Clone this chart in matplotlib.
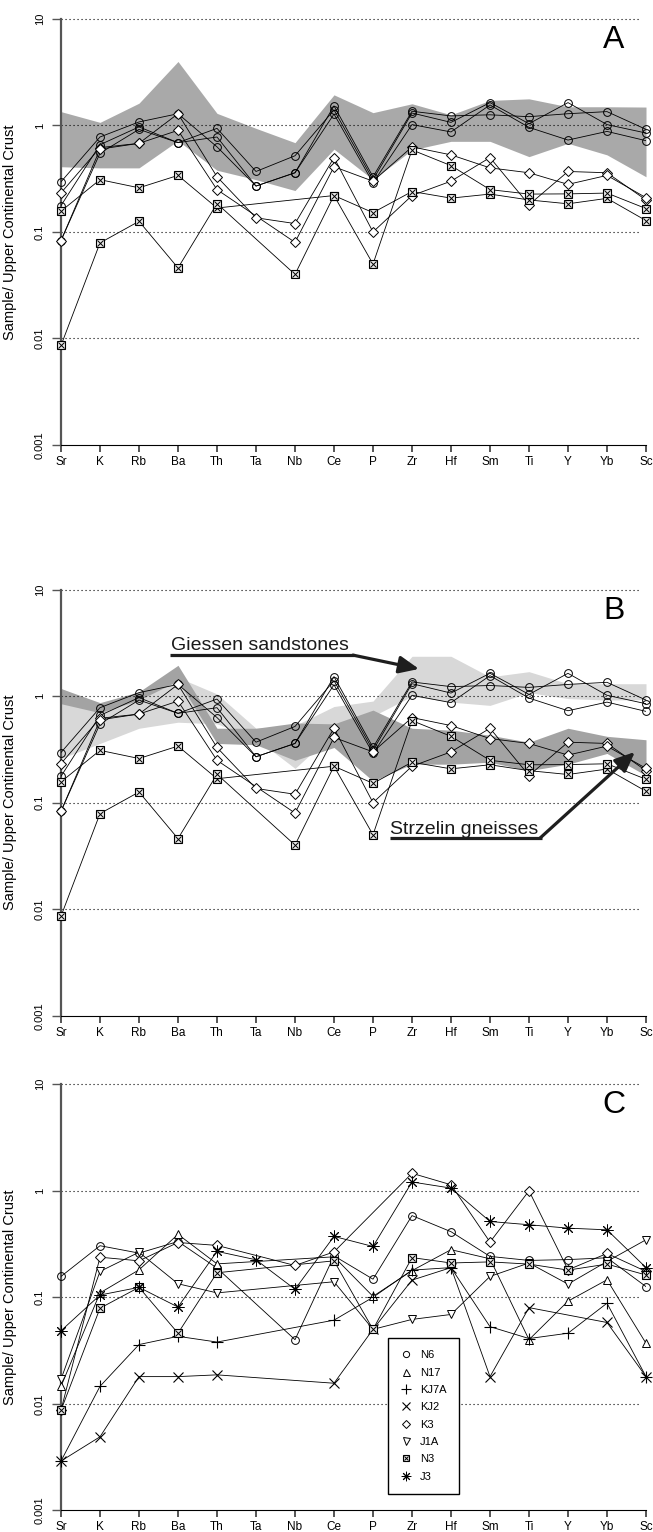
import numpy as np
import matplotlib
matplotlib.use("Agg")
import matplotlib.pyplot as plt
from matplotlib.lines import Line2D

plt.rcParams['font.family'] = ['Liberation Sans', 'DejaVu Sans']

nan = np.nan

# ----------------- data ----------------------------------#
elements = ['Sr', 'K', 'Rb', 'Ba', 'Th', 'Ta', 'Nb', 'Ce', 'P', 'Zr',
            'Hf', 'Sm', 'Ti', 'Y', 'Yb', 'Sc']
ytick_vals = [0.001, 0.01, 0.1, 1, 10]
ytick_labels = ['0.001', '0.01', '0.1', '1', '10']

# panels A and B: same samples
circ1 = [0.296, 0.78, 1.08, 1.29, 0.63, 0.27, 0.36, 1.53, 0.33, 1.36, 1.23, 1.26, 1.21, 1.29, 1.35, 0.92]
circ2 = [0.177, 0.66, 0.97, 0.69, 0.94, 0.37, 0.52, 1.40, 0.31, 1.31, 1.07, 1.64, 1.04, 1.64, 1.02, 0.85]
circ3 = [0.083, 0.55, 0.92, 0.69, 0.78, 0.27, 0.36, 1.28, 0.29, 1.02, 0.87, 1.56, 0.96, 0.73, 0.88, 0.72]
diam1 = [0.233, 0.62, 0.68, 1.29, 0.33, 0.136, 0.12, 0.50, 0.10, 0.22, 0.30, 0.50, 0.18, 0.37, 0.36, 0.20]
diam2 = [0.083, 0.60, 0.68, 0.90, 0.25, nan, 0.08, 0.41, 0.30, 0.63, 0.53, 0.40, 0.36, 0.28, 0.34, 0.21]
sqx1 = [0.157, 0.31, 0.26, 0.34, 0.168, nan, nan, 0.22, 0.152, 0.24, 0.208, 0.227, 0.20, 0.184, 0.207, 0.128]
sqx2 = [0.0086, 0.079, 0.126, 0.046, 0.185, nan, 0.040, 0.22, 0.050, 0.59, 0.42, 0.25, 0.227, 0.228, 0.232, 0.166]

# panel A field
fieldA_hi = [1.35, 1.07, 1.62, 3.99, 1.30, 0.94, 0.69, 1.94, 1.32, 1.60, 1.26, 1.72, 1.78, 1.50, 1.50, 1.49]
fieldA_lo = [0.41, 0.40, 0.40, 0.72, 0.38, 0.31, 0.245, 0.60, 0.31, 0.59, 0.71, 0.71, 0.51, 0.68, 0.53, 0.33]

# panel B fields
giessen_hi = [1.18, 0.80, 1.05, 1.50, 1.05, 0.50, 0.53, 0.80, 0.90, 2.37, 2.37, 1.52, 1.70, 1.31, 1.31, 1.31]
giessen_lo = [0.26, 0.36, 0.50, 0.57, 0.55, 0.40, 0.21, 0.45, 0.65, 1.00, 0.88, 0.82, 1.08, 0.95, 0.92, 0.93]
strzelin_hi = [1.18, 0.87, 1.10, 1.95, 0.50, 0.50, 0.56, 0.55, 0.74, 0.50, 0.48, 0.43, 0.37, 0.50, 0.42, 0.39]
strzelin_lo = [0.85, 0.70, 0.92, 1.40, 0.36, 0.35, 0.25, 0.33, 0.16, 0.23, 0.23, 0.24, 0.20, 0.23, 0.29, 0.18]

# panel C samples
N6 = [0.157, 0.305, 0.26, 0.334, 0.188, nan, 0.040, 0.245, 0.148, 0.585, 0.413, 0.242, 0.222, 0.226, 0.235, 0.126]
N17 = [0.0146, 0.11, 0.181, 0.39, 0.206, nan, nan, 0.24, 0.102, 0.178, 0.28, 0.23, 0.040, 0.092, 0.146, 0.037]
KJ7A = [0.0029, 0.0146, 0.036, 0.043, 0.038, nan, nan, 0.061, 0.10, 0.18, 0.19, 0.053, 0.041, 0.046, 0.088, 0.018]
KJ2 = [0.0029, 0.0049, 0.018, 0.018, 0.0187, nan, nan, 0.0156, 0.050, 0.145, 0.19, 0.018, 0.080, nan, 0.058, 0.018]
K3 = [0.0087, 0.238, 0.22, 0.327, 0.307, nan, 0.199, 0.267, nan, 1.46, 1.14, 0.33, 1.0, 0.181, 0.258, 0.175]
J1A = [0.017, 0.175, 0.265, 0.134, 0.11, nan, nan, 0.14, 0.05, 0.062, 0.069, 0.157, 0.21, 0.133, 0.217, 0.347]
N3 = [0.0087, 0.079, 0.124, 0.046, 0.17, nan, nan, 0.22, 0.05, 0.236, 0.21, 0.215, 0.205, 0.18, 0.205, 0.162]
J3 = [0.0485, 0.105, 0.124, 0.081, 0.27, 0.225, 0.119, 0.373, 0.30, 1.21, 1.06, 0.515, 0.48, 0.446, 0.43, 0.19]

legend_names = ['N6', 'N17', 'KJ7A', 'KJ2', 'K3', 'J1A', 'N3', 'J3']

# ----------------- styles ----------------------------------#
MARKERS = {
    'circle': [dict(marker='o', ms=5.6, mfc='none', mew=0.7)],
    'diamond': [dict(marker='D', ms=4.7, mfc='white', mew=0.7)],
    'sqx': [dict(marker='s', ms=5.4, mfc='#e8e8e8', mew=0.8),
            dict(marker='x', ms=4.4, mew=0.7)],
    'tri_up': [dict(marker='^', ms=6.3, mfc='white', mew=0.7)],
    'tri_down': [dict(marker='v', ms=6.3, mfc='white', mew=0.7)],
    'plus': [dict(marker='+', ms=8.5, mew=0.8)],
    'cross': [dict(marker='x', ms=6.5, mew=0.8)],
    'aster': [dict(marker=(8, 2, 0), ms=8.5, mew=0.7)],
}

W, H = 653, 1532
AX_LEFT, AX_W, AX_H = 61, 585, 426

fig = plt.figure(figsize=(W / 100, H / 100), dpi=100)


def make_axes(top_px, letter):
    ax = fig.add_axes([AX_LEFT / W, 1 - (top_px + AX_H) / H, AX_W / W, AX_H / H])
    ax.set_yscale('log')
    ax.set_xlim(0, 15)
    ax.set_ylim(0.001, 10)
    for s in ['top', 'right']:
        ax.spines[s].set_visible(False)
    ax.spines['left'].set_color('#555555')
    ax.spines['left'].set_linewidth(1.6)
    ax.spines['bottom'].set_color('black')
    ax.spines['bottom'].set_linewidth(0.8)

    ax.set_xticks(range(len(elements)), elements)
    ax.set_yticks(ytick_vals, ytick_labels, rotation=90, va='center')
    ax.yaxis.set_minor_locator(matplotlib.ticker.NullLocator())
    ax.tick_params(axis='x', length=5, width=1.4, color='#555555', pad=3, labelsize=8.5)
    ax.tick_params(axis='y', length=6.5, width=1.0, color='#555555', pad=5, labelsize=8)

    ax.hlines([10, 1, 0.1, 0.01], 0, 14.88, colors='black', lw=0.8,
              linestyles=(0, (1, 2.6)), zorder=2, clip_on=False)
    ax.set_ylabel('Sample/ Upper Continental Crust', fontsize=10.5)
    ax.yaxis.set_label_coords(-0.075, 0.5)
    ax.text(0.945, 0.951, letter, transform=ax.transAxes, fontsize=23,
            ha='center', va='center')
    return ax


def draw_sample(ax, vals, kind):
    v = np.array(vals, dtype=float)
    x = np.arange(len(v))
    ok = ~np.isnan(v)
    ax.plot(x[ok], v[ok], color='black', lw=0.6, zorder=3)
    for st in MARKERS[kind]:
        ax.plot(x[ok], v[ok], ls='none', mec='black', color='black',
                zorder=4, clip_on=False, **st)


def draw_field(ax, lo, hi, color):
    x = np.arange(len(lo))
    ax.fill_between(x, lo, hi, color=color, lw=0, zorder=1)


samplesAB = [(circ1, 'circle'), (circ2, 'circle'), (circ3, 'circle'),
             (diam1, 'diamond'), (diam2, 'diamond'),
             (sqx1, 'sqx'), (sqx2, 'sqx')]

# --------- panel A -------------------#
axA = make_axes(19, 'A')
draw_field(axA, fieldA_lo, fieldA_hi, '#a9a9a9')
for vals, kind in samplesAB:
    draw_sample(axA, vals, kind)

# --------- panel B -------------------#
axB = make_axes(589.7, 'B')
draw_field(axB, giessen_lo, giessen_hi, '#d8d8d8')
draw_field(axB, strzelin_lo, strzelin_hi, '#a3a3a3')
for vals, kind in samplesAB:
    draw_sample(axB, vals, kind)

arrow_col = '#1e1e1e'
axB.text(0.188, 0.859, 'Giessen sandstones', transform=axB.transAxes,
         fontsize=14, ha='left', va='baseline', color='#1a1a1a')
axB.plot([0.186, 0.501], [0.8465, 0.8465], transform=axB.transAxes,
         color=arrow_col, lw=2.3, solid_capstyle='butt', clip_on=False, zorder=5)
axB.annotate('', xy=(0.612, 0.814), xytext=(0.499, 0.8465), xycoords='axes fraction',
             arrowprops=dict(arrowstyle='-|>,head_length=0.8,head_width=0.35',
                             lw=2.3, color=arrow_col, shrinkA=0, shrinkB=0,
                             mutation_scale=15), zorder=5)

axB.text(0.5617, 0.4265, 'Strzelin gneisses', transform=axB.transAxes,
         fontsize=14, ha='left', va='baseline', color='#1a1a1a')
axB.plot([0.5617, 0.8217], [0.4171, 0.4171], transform=axB.transAxes,
         color=arrow_col, lw=2.3, solid_capstyle='butt', clip_on=False, zorder=5)
axB.annotate('', xy=(0.981, 0.619), xytext=(0.819, 0.4171), xycoords='axes fraction',
             arrowprops=dict(arrowstyle='-|>,head_length=0.8,head_width=0.35',
                             lw=2.3, color=arrow_col, shrinkA=0, shrinkB=0,
                             mutation_scale=15), zorder=5)

# --------- panel C -------------------#
axC = make_axes(1084.3, 'C')
samplesC = [(N6, 'circle'), (N17, 'tri_up'), (KJ7A, 'plus'), (KJ2, 'cross'),
            (K3, 'diamond'), (J1A, 'tri_down'), (N3, 'sqx'), (J3, 'aster')]
for vals, kind in samplesC:
    draw_sample(axC, vals, kind)

handles = []
for vals, kind in samplesC:
    parts = tuple(Line2D([], [], ls='none', mec='black', color='black', **st)
                  for st in MARKERS[kind])
    handles.append(parts if len(parts) > 1 else parts[0])

leg = axC.legend(handles, legend_names, loc='upper left',
                 bbox_to_anchor=(388 / W, 1 - 1338 / H), bbox_transform=fig.transFigure,
                 frameon=True, fancybox=False, edgecolor='black', framealpha=1,
                 fontsize=8, borderpad=1.1, labelspacing=0.66, handlelength=1.0,
                 handletextpad=0.8, borderaxespad=0, markerscale=0.8)
leg.get_frame().set_linewidth(1.0)
leg.set_zorder(6)

fig.savefig('out.png', dpi=100)
